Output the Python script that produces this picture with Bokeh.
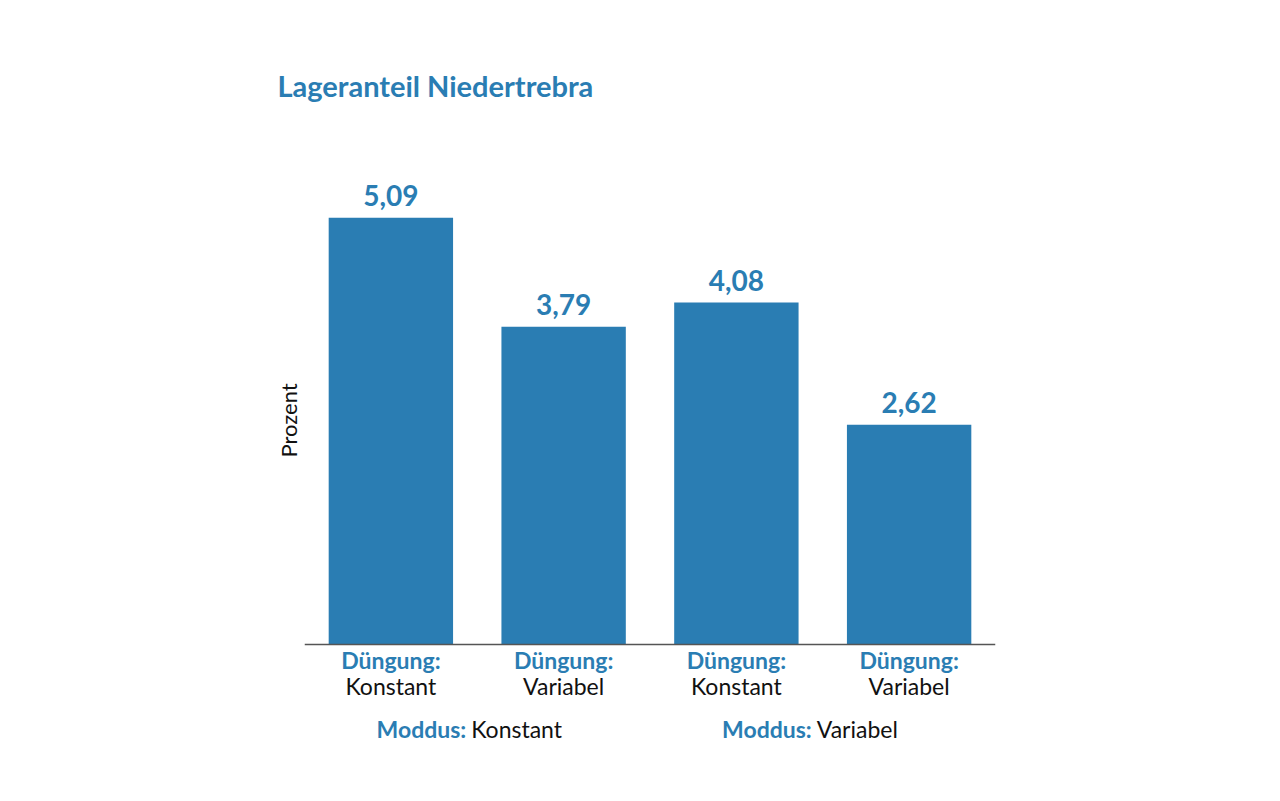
from bokeh.plotting import figure
from bokeh.models import Range1d, Span, ColumnDataSource, Title
from bokeh.core.properties import value
from bokeh.embed import file_html
from bokeh.resources import INLINE

title = "Lageranteil Niedertrebra"
y_label = "Prozent"
duengung = ["Konstant", "Variabel", "Konstant", "Variabel"]
moddus = ["Konstant", "Konstant", "Variabel", "Variabel"]
werte = [5.09, 3.79, 4.08, 2.62]
werte_text = ["5,09", "3,79", "4,08", "2,62"]

BLUE = "#2a7db3"
BLACK = "#111111"
FONT = "Lato"

xs = [i + 0.5 for i in range(len(werte))]

p = figure(width=1264, height=785, output_backend="svg", toolbar_location=None,
           x_range=Range1d(0, len(werte)), y_range=Range1d(-1.384, 6.37),
           x_axis_location=None, y_axis_location=None,
           min_border_left=304, min_border_right=269, min_border_bottom=25, min_border_top=110)
p.outline_line_color = None
p.grid.visible = False

p.title.text = title
p.title.text_font = FONT
p.title.text_font_style = "bold"
p.title.text_font_size = "29px"
p.title.text_color = BLUE
p.title.offset = -27
p.title.standoff = 15

p.add_layout(Title(text=y_label, align="left", offset=303, standoff=5, text_font=FONT,
                   text_font_size="22px", text_font_style="normal", text_color=BLACK), "left")

src = ColumnDataSource(dict(x=xs, top=werte, label=werte_text))
p.vbar(x="x", top="top", width=0.72, bottom=0, source=src, fill_color=BLUE, line_color=None)
p.text(x="x", y="top", text="label", source=src, text_align="center", text_baseline="middle",
       y_offset=-22, text_font=value(FONT), text_font_style="bold", text_font_size="28px", text_color=BLUE)

# baseline (x-axis line)
p.add_layout(Span(location=0, dimension="width", line_color="#555555", line_width=1.5))

# category labels below the baseline
cat = ColumnDataSource(dict(x=xs, head=["Düngung:"] * len(xs), d=duengung))
p.text(x="x", y=0, text="head", source=cat, text_align="center", text_baseline="middle", y_offset=16,
       text_font=value(FONT), text_font_style="bold", text_font_size="23px", text_color=BLUE)
p.text(x="x", y=0, text="d", source=cat, text_align="center", text_baseline="middle", y_offset=42,
       text_font=value(FONT), text_font_size="23px", text_color=BLACK)

groups = []
for m in moddus:
    if m not in groups:
        groups.append(m)
gx = [sum(x for x, m in zip(xs, moddus) if m == g) / moddus.count(g) for g in groups]
grp = ColumnDataSource(dict(x=gx, head=["Moddus:"] * len(groups), g=groups))
p.text(x="x", y=0, text="head", source=grp, text_align="right", text_baseline="middle",
       x_offset=-11, y_offset=85, text_font=value(FONT), text_font_style="bold",
       text_font_size="23px", text_color=BLUE)
p.text(x="x", y=0, text="g", source=grp, text_align="left", text_baseline="middle",
       x_offset=-6, y_offset=85, text_font=value(FONT), text_font_size="23px", text_color=BLACK)

open("out.html", "w").write(file_html(p, INLINE))
